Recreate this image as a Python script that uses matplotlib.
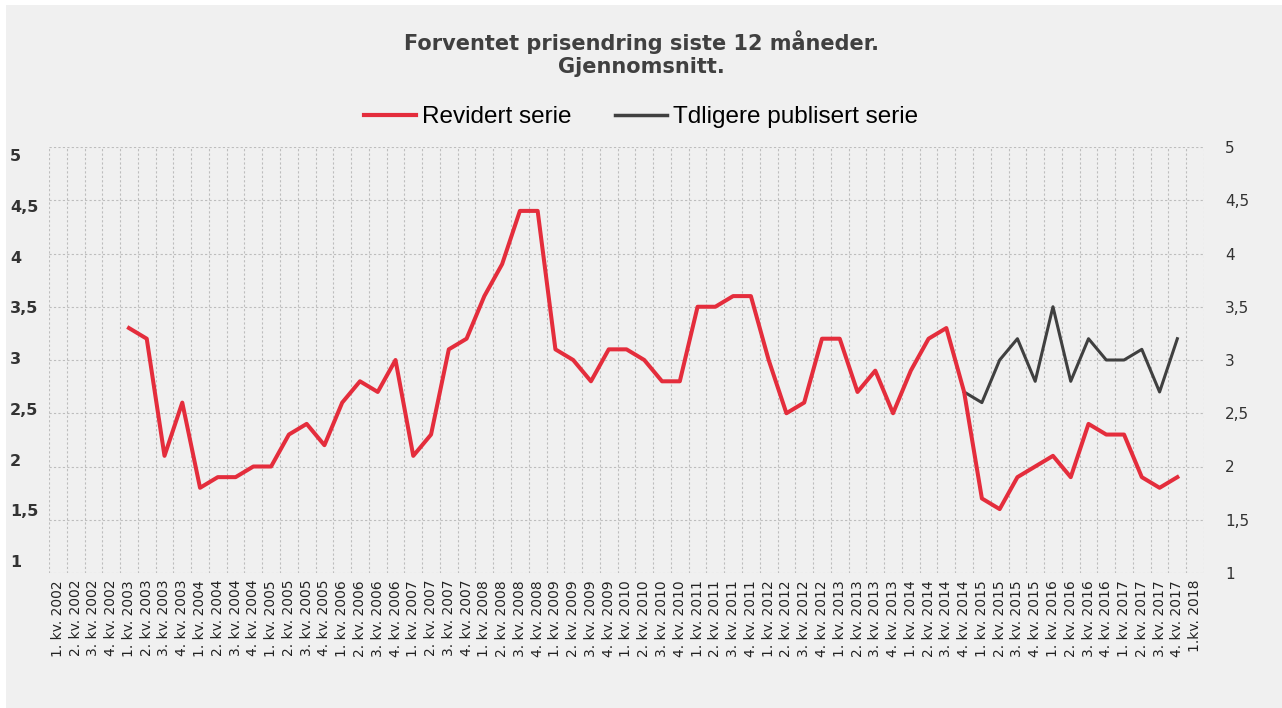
import matplotlib
matplotlib.use("Agg")
import matplotlib.pyplot as plt
from matplotlib.lines import Line2D
from matplotlib.patches import Rectangle
import numpy as np

# quarters 2002 Q1 .. 2018 Q1
quarters = []
for year in range(2002, 2018):
    for q in range(1, 5):
        quarters.append("%d. kv. %d" % (q, year))
quarters.append("1.kv. 2018")

# revised series, starts 1. kv. 2003 (index 4)
revidert_start = 4
revidert = [3.3, 3.2, 2.1, 2.6,
            1.8, 1.9, 1.9, 2.0,
            2.0, 2.3, 2.4, 2.2,
            2.6, 2.8, 2.7, 3.0,
            2.1, 2.3, 3.1, 3.2,
            3.6, 3.9, 4.4, 4.4,
            3.1, 3.0, 2.8, 3.1,
            3.1, 3.0, 2.8, 2.8,
            3.5, 3.5, 3.6, 3.6,
            3.0, 2.5, 2.6, 3.2,
            3.2, 2.7, 2.9, 2.5,
            2.9, 3.2, 3.3, 2.7,
            1.7, 1.6, 1.9, 2.0,
            2.1, 1.9, 2.4, 2.3,
            2.3, 1.9, 1.8, 1.9]

# previously published series, starts 4. kv. 2014 (index 51)
tidligere_start = 51
tidligere = [2.7,
             2.6, 3.0, 3.2, 2.8,
             3.5, 2.8, 3.2, 3.0,
             3.0, 3.1, 2.7, 3.2]

red = "#e42d3c"
dark = "#404040"
bg = "#f0f0f0"
grid_col = "#bdbdbd"

fig = plt.figure(figsize=(12.82, 7.08), dpi=100, facecolor="white")
fig.patches.append(Rectangle((6 / 1282, 0), 1 - 6 / 1282, 1 - 5 / 708,
                             transform=fig.transFigure, facecolor=bg,
                             edgecolor="none", zorder=-10))

ax = fig.add_axes([49 / 1282, 1 - 573 / 708, (1204 - 49) / 1282, (573 - 147) / 708])
ax.set_facecolor(bg)
# left axis labels sit on a slightly different scale than the data
axl = ax.twinx()

x_rev = np.arange(revidert_start, revidert_start + len(revidert))
x_tid = np.arange(tidligere_start, tidligere_start + len(tidligere))
ax.plot(x_tid, tidligere, color=dark, lw=2.2, zorder=3)
ax.plot(x_rev, revidert, color=red, lw=2.9, zorder=4)

n = len(quarters)
ax.set_xlim(-0.5, n - 0.5)
ax.set_ylim(1, 5)

# dashed grid: horizontal every 0.5, vertical between categories
for yv in np.arange(1, 5.01, 0.5):
    ax.axhline(yv, color=grid_col, lw=0.8, ls=(0, (2, 2)), zorder=1)
for xv in np.arange(-0.5, n, 1.0):
    ax.axvline(xv, color=grid_col, lw=0.8, ls=(0, (2, 2)), zorder=1)
for s in ax.spines.values():
    s.set_visible(False)

ax.set_xticks(np.arange(n))
ax.set_xticklabels(quarters, rotation=90, fontsize=10, color="#222222",
                   family="DejaVu Sans")
ax.tick_params(axis="x", length=0, pad=5)

yt = np.arange(1, 5.01, 0.5)
ylab = [("%g" % v).replace(".", ",") for v in yt]

# right axis labels
ax.yaxis.tick_right()
ax.set_yticks(yt)
ax.set_yticklabels(ylab, fontsize=11, color="#333333")
ax.tick_params(axis="y", length=0, pad=15)

axl.yaxis.tick_left()
axl.set_ylim(0.882, 5.079)
axl.set_yticks(yt)
axl.set_yticklabels(ylab, fontsize=11.5, color="#333333", fontweight="bold",
                    family="DejaVu Sans")
axl.tick_params(axis="y", length=0)
for lab in axl.get_yticklabels():
    lab.set_horizontalalignment("left")
    lab.set_x(-34 / (1204 - 49))
for s in axl.spines.values():
    s.set_visible(False)
axl.set_xlim(ax.get_xlim())

fig.text(0.5, 1 - 42 / 708, "Forventet prisendring siste 12 måneder.",
         ha="center", va="center", fontsize=15, fontweight="bold", color="#404040")
fig.text(0.5, 1 - 67 / 708, "Gjennomsnitt.",
         ha="center", va="center", fontsize=15, fontweight="bold", color="#404040")

legend_elements = [Line2D([0], [0], color=red, lw=3, label="Revidert serie"),
                   Line2D([0], [0], color=dark, lw=2.5, label="Tdligere publisert serie")]
fig.legend(handles=legend_elements, loc="center", bbox_to_anchor=(0.5, 1 - 117 / 708),
           ncol=2, frameon=False, handlelength=2.14, handletextpad=0.25,
           columnspacing=1.8, prop={"family": "Liberation Sans", "size": 17.5})

fig.savefig("out.png", dpi=100, facecolor=fig.get_facecolor())
